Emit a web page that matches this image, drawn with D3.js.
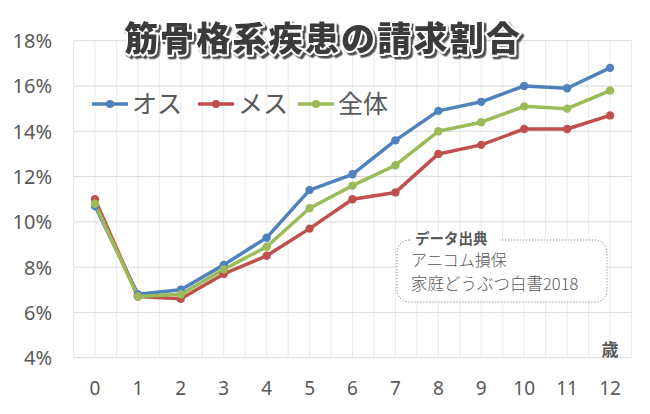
<!DOCTYPE html>
<html><head><meta charset="utf-8">
<script src="https://cdn.jsdelivr.net/npm/d3@7"></script>
<style>body{margin:0;background:#fff;}svg{display:block;}</style>
</head><body>
<svg id="c" width="650" height="414"></svg>
<script>
const ages = [0,1,2,3,4,5,6,7,8,9,10,11,12];
const male = [10.7,6.8,7.0,8.1,9.3,11.4,12.1,13.6,14.9,15.3,16.0,15.9,16.8];
const female = [11.0,6.7,6.6,7.7,8.5,9.7,11.0,11.3,13.0,13.4,14.1,14.1,14.7];
const total = [10.8,6.7,6.8,7.9,8.9,10.6,11.6,12.5,14.0,14.4,15.1,15.0,15.8];
const yTicks = [4,6,8,10,12,14,16,18];
const seriesNames = ["オス","メス","全体"];
const colors = ["#4f81bd","#c0504d","#9bbb59"];

const svg = d3.select("#c");
const font = "'Noto Sans CJK JP', 'Noto Sans', sans-serif";
const numFont = "'Noto Sans', 'Open Sans', sans-serif";
const x = d3.scaleLinear().domain([-0.5,12.5]).range([73.5,631.5]);
const y = d3.scaleLinear().domain([4,18]).range([357.7,40.7]);

const defs = svg.append("defs");
const f = defs.append("filter").attr("id","sh").attr("x","-10%").attr("y","-30%").attr("width","120%").attr("height","160%");
f.append("feDropShadow").attr("dx",2.5).attr("dy",2.5).attr("stdDeviation",0.4)
  .attr("flood-color","#505050").attr("flood-opacity",1);

// vertical grid (half steps)
const vlines = d3.range(-0.5,12.51,0.5);
svg.append("g").selectAll("line").data(vlines).join("line")
  .attr("x1",d=>x(d)).attr("x2",d=>x(d)).attr("y1",y(18)).attr("y2",y(4))
  .attr("stroke","#ececec").attr("stroke-width",1);
// horizontal grid
svg.append("g").selectAll("line").data(yTicks).join("line")
  .attr("x1",x(-0.5)).attr("x2",x(12.5)).attr("y1",d=>y(d)).attr("y2",d=>y(d))
  .attr("stroke","#d9d9d9").attr("stroke-width",1);

// y axis labels
svg.append("g").selectAll("text").data(yTicks).join("text")
  .attr("x",52).attr("y",d=>y(d)+0.5).attr("dy","0.35em").attr("text-anchor","end")
  .attr("font-family",numFont).attr("font-size",20).attr("fill","#595959")
  .text(d=>d+"%");
// x axis labels
svg.append("g").selectAll("text").data(ages).join("text")
  .attr("x",d=>x(d)).attr("y",388).attr("dy","0.35em").attr("text-anchor","middle")
  .attr("font-family",numFont).attr("font-size",19).attr("fill","#595959")
  .text(d=>d);
svg.append("text").attr("x",610).attr("y",350).attr("dy","0.36em").attr("text-anchor","middle")
  .attr("font-family",font).attr("font-size",17).attr("font-weight","bold").attr("fill","#595959").text("歳");

// lines
const data = [male,female,total];
const line = d3.line().x((d,i)=>x(ages[i])).y(d=>y(d));
data.forEach((s,k)=>{
  svg.append("path").datum(s).attr("d",line).attr("fill","none")
    .attr("stroke",colors[k]).attr("stroke-width",3.5).attr("stroke-linejoin","round");
});
data.forEach((s,k)=>{
  svg.append("g").selectAll("circle").data(s).join("circle")
    .attr("cx",(d,i)=>x(ages[i])).attr("cy",d=>y(d)).attr("r",4.2).attr("fill",colors[k]);
});

// legend
const legX = [92,198,298];
seriesNames.forEach((n,k)=>{
  const g = svg.append("g");
  g.append("line").attr("x1",legX[k]).attr("x2",legX[k]+36).attr("y1",104).attr("y2",104)
    .attr("stroke",colors[k]).attr("stroke-width",3.5);
  g.append("circle").attr("cx",legX[k]+18).attr("cy",104).attr("r",4).attr("fill",colors[k]);
  g.append("text").attr("x",legX[k]+40).attr("y",104).attr("dy","0.36em")
    .attr("font-family",font).attr("font-size",25).attr("fill","#595959").text(n);
});

// title with outline and shadow
const title = "筋骨格系疾患の請求割合";
svg.append("text").attr("x",323).attr("y",39).attr("dy","0.36em").attr("text-anchor","middle")
  .attr("font-family",font).attr("font-size",34).attr("font-weight","900")
  .attr("letter-spacing",2.2)
  .attr("fill","#3a3a3a").attr("stroke","#fff").attr("stroke-width",4)
  .attr("stroke-linejoin","round").attr("paint-order","stroke")
  .attr("filter","url(#sh)").text(title);

// source box
svg.append("rect").attr("x",397).attr("y",240).attr("width",210).attr("height",62).attr("rx",12)
  .attr("fill","#fff").attr("stroke","#888").attr("stroke-width",1).attr("stroke-dasharray","1.2,1.8");
svg.append("rect").attr("x",412).attr("y",232).attr("width",88).attr("height",16).attr("fill","#fff");
svg.append("text").attr("x",415).attr("y",239).attr("dy","0.36em")
  .attr("font-family",font).attr("font-size",14.5).attr("font-weight","bold").attr("fill","#595959").text("データ出典");
svg.append("text").attr("x",411).attr("y",260.5).attr("dy","0.36em")
  .attr("font-family",font).attr("font-size",16).attr("font-weight","300").attr("fill","#595959").text("アニコム損保");
svg.append("text").attr("x",411).attr("y",284).attr("dy","0.36em")
  .attr("font-family",font).attr("font-size",16.5).attr("font-weight","300").attr("fill","#595959").text("家庭どうぶつ白書2018");
</script>
</body></html>
